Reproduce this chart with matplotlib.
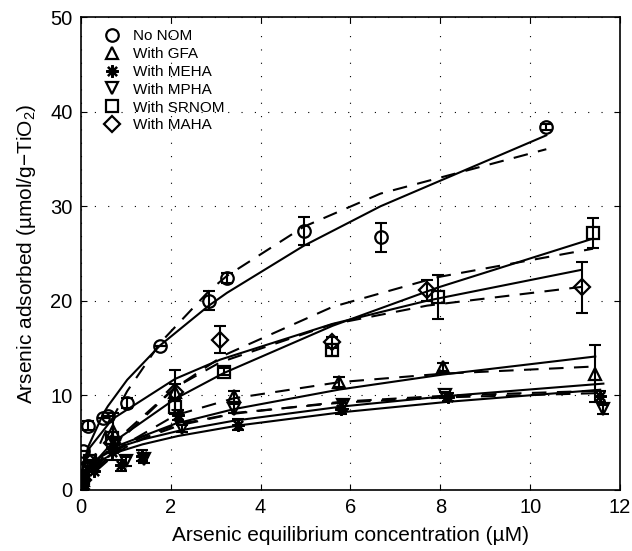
import matplotlib
matplotlib.use("Agg")
import matplotlib.pyplot as plt
import numpy as np

plt.rcParams['font.family'] = ['Liberation Sans', 'DejaVu Sans']
plt.rcParams['mathtext.fontset'] = 'custom'
plt.rcParams['mathtext.rm'] = 'Liberation Sans'
plt.rcParams['mathtext.it'] = 'Liberation Sans:italic'

# data (C in uM, q in umol/g)
labels = ["No NOM", "With GFA", "With MEHA", "With MPHA", "With SRNOM", "With MAHA"]
markers = ["o", "^", (8, 2, 0), "v", "s", "D"]

x_nonom = [0, 0.02, 0.05, 0.16, 0.5, 0.6, 1.03, 1.77, 2.85, 3.25, 4.96, 6.67, 10.36]
y_nonom = [0.2, 2.1, 4.1, 6.8, 7.6, 7.8, 9.2, 15.2, 20.0, 22.4, 27.4, 26.7, 38.4]
e_nonom = [0, 0, 0, 0.5, 0, 0, 0.5, 0, 1.0, 0.5, 1.5, 1.5, 0.3]

x_gfa = [0, 0.05, 0.2, 0.72, 2.1, 3.4, 5.75, 8.05, 11.45]
y_gfa = [0.1, 1.0, 2.5, 6.2, 10.4, 9.9, 11.4, 13.0, 12.3]
e_gfa = [0, 0, 0, 1.9, 2.3, 0.6, 0.5, 0.4, 3.0]

x_meha = [0, 0.05, 0.3, 0.7, 0.9, 1.37, 2.16, 3.5, 5.8, 8.17, 11.56]
y_meha = [0.1, 0.8, 2.0, 4.0, 2.6, 3.6, 7.9, 6.9, 8.6, 9.8, 9.9]
e_meha = [0, 0, 0, 0.8, 0.6, 0.6, 0.5, 0.6, 0.6, 0.4, 0.6]

x_mpha = [0, 0.05, 0.3, 0.75, 1.0, 1.4, 2.24, 3.4, 5.84, 8.1, 11.63]
y_mpha = [0.1, 0.9, 2.5, 4.8, 3.0, 3.3, 6.5, 8.6, 9.0, 10.0, 8.5]
e_mpha = [0, 0, 0, 0.6, 0.5, 0.5, 0.4, 0.5, 0.5, 0.3, 0.5]

x_srnom = [0, 0.05, 0.2, 0.7, 2.09, 3.18, 5.6, 7.94, 11.4]
y_srnom = [0.1, 1.2, 3.0, 5.5, 8.8, 12.5, 14.8, 20.4, 27.2]
e_srnom = [0, 0, 0, 0.6, 0.8, 0.4, 0.6, 2.3, 1.6]

x_maha = [0, 0.05, 0.2, 0.7, 2.1, 3.1, 5.6, 7.71, 11.15]
y_maha = [0.1, 1.0, 2.8, 5.0, 10.4, 15.9, 15.6, 21.1, 21.4]
e_maha = [0, 0, 0, 0.6, 0.8, 1.4, 0.6, 1.1, 2.7]

# fit parameters: Freundlich (solid) K, 1/n ; Langmuir (dashed) qmax, b
freund_K = [11.46, 5.14, 4.28, 4.76, 6.17, 8.66]
freund_n = [0.507, 0.414, 0.37, 0.35, 0.60, 0.41]
lang_qmax = [49.4, 15.3, 11.5, 12.0, 36.8, 27.8]
lang_b = [0.26, 0.506, 0.70, 0.60, 0.198, 0.304]

xs = [x_nonom, x_gfa, x_meha, x_mpha, x_srnom, x_maha]
ys = [y_nonom, y_gfa, y_meha, y_mpha, y_srnom, y_maha]
es = [e_nonom, e_gfa, e_meha, e_mpha, e_srnom, e_maha]

fig = plt.figure(figsize=(6.32, 5.51), dpi=100)
ax = fig.add_axes([0.128, 0.111, 0.853, 0.858])

for i in range(6):
    c = np.array(xs[i])
    q_f = freund_K[i] * c ** freund_n[i]
    q_l = lang_qmax[i] * lang_b[i] * c / (1 + lang_b[i] * c)
    ax.plot(c, q_f, color="k", lw=1.5, zorder=2)
    ax.plot(c, q_l, color="k", lw=1.5, dashes=(7, 5), zorder=2)

sizes = [9, 8.5, 9, 8.5, 8, 8]
for i in range(6):
    ax.errorbar(xs[i], ys[i], yerr=es[i], fmt="none", ecolor="k",
                elinewidth=1.5, capsize=4, capthick=1.5, zorder=3)
    ax.plot(xs[i], ys[i], linestyle="none", marker=markers[i], ms=sizes[i],
            mfc="none", mec="k", mew=1.6, zorder=4, label=labels[i])

ax.set_xlim(0, 12)
ax.set_ylim(0, 50)
ax.set_xticks(range(0, 13, 2))
ax.set_yticks(range(0, 51, 10))
ax.tick_params(direction="in", top=True, right=True, labelsize=14.5, length=4, pad=6)
ax.grid(True, color="k", lw=0.8, linestyle=(0, (1, 11)))
ax.set_axisbelow(True)
for s in ax.spines.values():
    s.set_linewidth(1.2)

ax.set_xlabel("Arsenic equilibrium concentration (µM)", fontsize=15, labelpad=6)
ax.set_ylabel("Arsenic adsorbed (µmol/g−TiO$_2$)", fontsize=15, labelpad=9)

ax.legend(loc="upper left", frameon=False, fontsize=11,
          handlelength=1.0, handletextpad=0.9, labelspacing=0.25,
          borderaxespad=0.4, bbox_to_anchor=(0.02, 1.0))

fig.savefig("out.png", dpi=100)
